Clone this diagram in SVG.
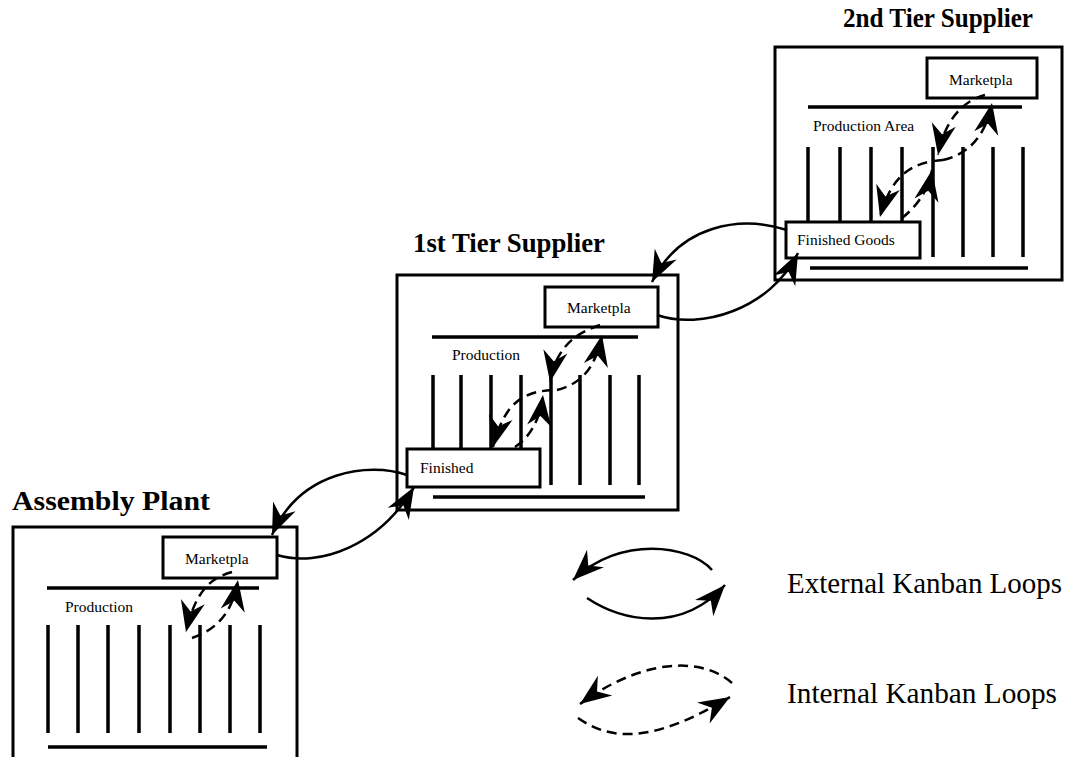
<svg xmlns="http://www.w3.org/2000/svg" width="1068" height="757" viewBox="0 0 1068 757">
<style>
.box{fill:none;stroke:#000;stroke-width:3}
.lbl{fill:#fff;stroke:#000;stroke-width:3}
.ln{stroke:#000;stroke-width:3.5;fill:none}
.title{font-family:"Liberation Serif",serif;font-weight:bold;font-size:27px;fill:#000}
.t{font-family:"Liberation Serif",serif;font-size:15.5px;fill:#000}
.leg{font-family:"Liberation Serif",serif;font-size:28.5px;fill:#000}
.ext{fill:none;stroke:#000;stroke-width:2.5;marker-end:url(#ah)}
.int{fill:none;stroke:#000;stroke-width:2.5;stroke-dasharray:10 6;marker-end:url(#ah)}
</style>
<defs>
<marker id="ah" markerUnits="userSpaceOnUse" orient="auto" markerWidth="40" markerHeight="40" viewBox="-32 -16 36 32" refX="0" refY="0" overflow="visible">
<path d="M0,0 L-28,-11 L-19,0 L-28,11 Z" fill="#000"/>
</marker>
</defs>
<rect width="1068" height="757" fill="#fff"/>

<g id="assembly-plant">
<text class="title" x="12" y="510" textLength="198" lengthAdjust="spacingAndGlyphs">Assembly Plant</text>
<rect class="box" x="13" y="527" width="284" height="232"/>
<line class="ln" x1="47" y1="588" x2="259" y2="588"/>
<text class="t" x="65" y="612">Production</text>
<path class="ln" d="M48,625V733M78,625V733M108,625V733M139,625V733M170,625V733M200,625V733M230,625V733M260,625V733"/>
<line class="ln" x1="48" y1="747" x2="267" y2="747"/>
<g id="assembly-marketplace">
<rect class="lbl" x="163" y="537" width="114" height="41"/>
<text class="t" x="185" y="564">Marketpla</text>
</g>
</g>

<g id="tier1-supplier">
<text class="title" x="413" y="252" textLength="192" lengthAdjust="spacingAndGlyphs">1st Tier Supplier</text>
<rect class="box" x="397" y="275" width="281" height="235"/>
<line class="ln" x1="432" y1="337" x2="638" y2="337"/>
<text class="t" x="452" y="360">Production</text>
<path class="ln" d="M433,375V485M461,375V485M491,375V485M521,375V485M551,375V485M580,375V485M610,375V485M639,375V485"/>
<line class="ln" x1="433" y1="497" x2="645" y2="497"/>
<g id="tier1-marketplace">
<rect class="lbl" x="545" y="287" width="113" height="40"/>
<text class="t" x="567" y="313">Marketpla</text>
</g>
<g id="tier1-finished">
<rect class="lbl" x="407" y="449" width="133" height="38"/>
<text class="t" x="420" y="473">Finished</text>
</g>
</g>

<g id="tier2-supplier">
<text class="title" x="843" y="27" textLength="190" lengthAdjust="spacingAndGlyphs">2nd Tier Supplier</text>
<rect class="box" x="775" y="47" width="287" height="233"/>
<line class="ln" x1="808" y1="107" x2="1022" y2="107"/>
<text class="t" x="813" y="131">Production Area</text>
<path class="ln" d="M808,147V257M840,147V257M871,147V257M902,147V257M933,147V257M963,147V257M993,147V257M1023,147V257"/>
<line class="ln" x1="810" y1="268" x2="1028" y2="268"/>
<g id="tier2-marketplace">
<rect class="lbl" x="927" y="58" width="110" height="40"/>
<text class="t" x="949" y="85">Marketpla</text>
</g>
<g id="tier2-finished">
<rect class="lbl" x="786" y="222" width="134" height="36"/>
<text class="t" x="797" y="245">Finished Goods</text>
</g>
</g>

<g id="connectors">
<path class="int" d="M232,572 C210,578 195,592 186,632"/>
<path class="int" d="M192,638 C215,630 232,615 238,580"/>
<path class="int" d="M600,325 C575,333 556,348 550,382"/>
<path class="int" d="M552,390 C525,392 505,400 493,447"/>
<path class="int" d="M515,447 C530,437 540,420 543,395"/>
<path class="int" d="M557,390 C580,384 595,370 602,335"/>
<path class="int" d="M985,95 C965,100 945,118 938,155"/>
<path class="int" d="M943,160 C915,162 892,172 880,217"/>
<path class="int" d="M902,218 C915,208 928,192 932,170"/>
<path class="int" d="M943,160 C965,155 985,140 992,103"/>
<path class="ext" d="M407,475 C370,462 300,470 272,535"/>
<path class="ext" d="M277,555 C320,568 380,545 414,487"/>
<path class="ext" d="M787,230 C740,215 680,225 652,282"/>
<path class="ext" d="M657,315 C700,330 770,310 798,253"/>
</g>

<g id="legend">
<path class="ext" d="M712,570 C690,545 620,535 573,580"/>
<path class="ext" d="M587,598 C620,620 680,635 725,585"/>
<text class="leg" x="787" y="593" textLength="275" lengthAdjust="spacingAndGlyphs">External Kanban Loops</text>
<path class="int" d="M732,683 C700,655 640,660 580,704"/>
<path class="int" d="M578,718 C610,740 650,745 730,697"/>
<text class="leg" x="787" y="703" textLength="270" lengthAdjust="spacingAndGlyphs">Internal Kanban Loops</text>
</g>
</svg>
